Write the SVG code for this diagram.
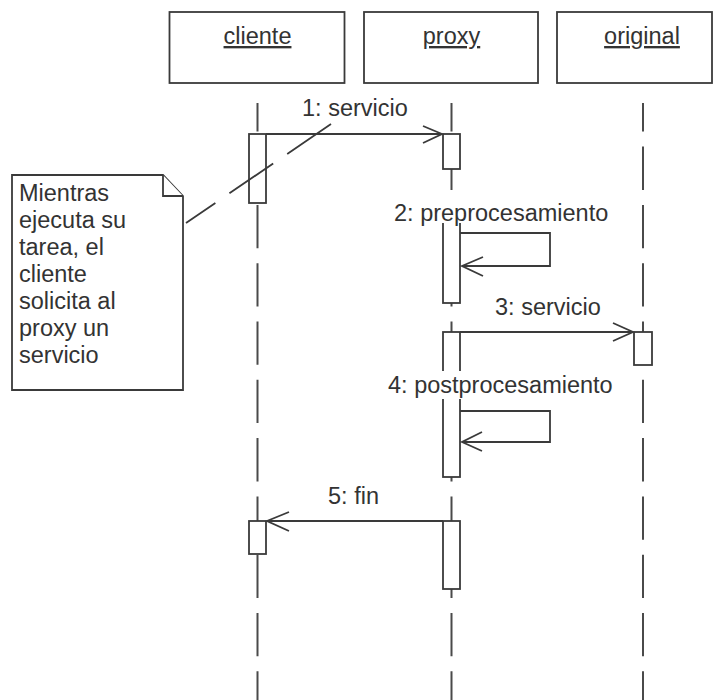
<svg xmlns="http://www.w3.org/2000/svg" width="720" height="700" viewBox="0 0 720 700">
  <defs>
    <style>
      .head { fill: #ffffff; stroke: #3a3a3a; stroke-width: 1.8; }
      .title { font-family: "Liberation Sans", Arial, sans-serif; font-size: 23.5px; fill: #333333; text-anchor: middle; text-decoration: underline; }
      .life { stroke: #4a4a4a; stroke-width: 2; fill: none; stroke-dasharray: 43.3 15; stroke-dashoffset: 14.7; }
      .act { fill: #ffffff; stroke: #3a3a3a; stroke-width: 1.8; }
      .msg { stroke: #3a3a3a; stroke-width: 1.8; fill: none; }
      .head-arrow { stroke: #3a3a3a; stroke-width: 1.8; fill: none; stroke-linejoin: miter; }
      .label { font-family: "Liberation Sans", Arial, sans-serif; font-size: 23.5px; fill: #333333; }
      .mask { fill: #ffffff; stroke: none; }
      .note { fill: #ffffff; stroke: #3a3a3a; stroke-width: 1.8; }
      .anchor { stroke: #3a3a3a; stroke-width: 1.8; fill: none; stroke-dasharray: 53 17; }
    </style>
  </defs>

  <!-- lifelines -->
  <g id="lifelines">
    <line class="life" x1="257.5" y1="103" x2="257.5" y2="700"/>
    <line class="life" x1="451.5" y1="103" x2="451.5" y2="700"/>
    <line class="life" x1="643" y1="103" x2="643" y2="700"/>
  </g>

  <!-- object heads -->
  <g id="cliente">
    <rect class="head" x="169.5" y="12" width="175" height="71"/>
    <text class="title" x="257.5" y="44">cliente</text>
  </g>
  <g id="proxy">
    <rect class="head" x="364" y="12" width="174" height="71"/>
    <text class="title" x="451.5" y="44">proxy</text>
  </g>
  <g id="original">
    <rect class="head" x="557" y="12" width="155" height="71"/>
    <text class="title" x="642" y="44">original</text>
  </g>

  <!-- activation bars -->
  <g id="activations">
    <rect class="act" x="249" y="134" width="17" height="69"/>
    <rect class="act" x="443" y="134" width="17" height="35"/>
    <rect class="act" x="443" y="212" width="17" height="91"/>
    <rect class="act" x="634" y="332" width="18" height="33"/>
    <rect class="act" x="443" y="332" width="17" height="145"/>
    <rect class="act" x="443" y="521" width="17" height="68"/>
    <rect class="act" x="249" y="521" width="17" height="33"/>
  </g>

  <!-- messages -->
  <g id="connectors">
    <line class="msg" x1="266" y1="134" x2="442" y2="134"/>
    <polyline class="head-arrow" points="423,126 442,134 423,143"/>

    <path class="msg" d="M460,233 H550 V266 H462"/>
    <polyline class="head-arrow" points="483,257 462,266 483,276"/>

    <line class="msg" x1="460" y1="332" x2="633" y2="332"/>
    <polyline class="head-arrow" points="613,323 633,332 613,341"/>

    <path class="msg" d="M460,411 H550 V442 H462"/>
    <polyline class="head-arrow" points="482,432 462,442 482,451"/>

    <line class="msg" x1="443" y1="521" x2="267" y2="521"/>
    <polyline class="head-arrow" points="289,512 267,521 289,531"/>

    <!-- note anchor -->
    <line class="anchor" x1="331" y1="124" x2="186" y2="223"/>
  </g>

  <!-- message labels -->
  <g id="labels">
    <text class="label" x="302" y="116">1: servicio</text>
    <rect class="mask" x="391" y="199" width="248" height="24"/>
    <text class="label" x="394" y="221">2: preprocesamiento</text>
    <text class="label" x="495" y="315">3: servicio</text>
    <rect class="mask" x="385" y="371" width="235" height="28"/>
    <text class="label" x="388" y="393">4: postprocesamiento</text>
    <text class="label" x="328" y="504">5: fin</text>
  </g>

  <!-- comment note -->
  <g id="note">
    <path class="note" d="M12,175 H163 L183,196 V390 H12 Z"/>
    <path class="note" d="M163,175 V196 H183"/>
    <text class="label" x="19">
      <tspan x="19" y="201">Mientras</tspan>
      <tspan x="19" y="228">ejecuta su</tspan>
      <tspan x="19" y="255">tarea, el</tspan>
      <tspan x="19" y="282">cliente</tspan>
      <tspan x="19" y="309">solicita al</tspan>
      <tspan x="19" y="336">proxy un</tspan>
      <tspan x="19" y="363">servicio</tspan>
    </text>
  </g>
</svg>
